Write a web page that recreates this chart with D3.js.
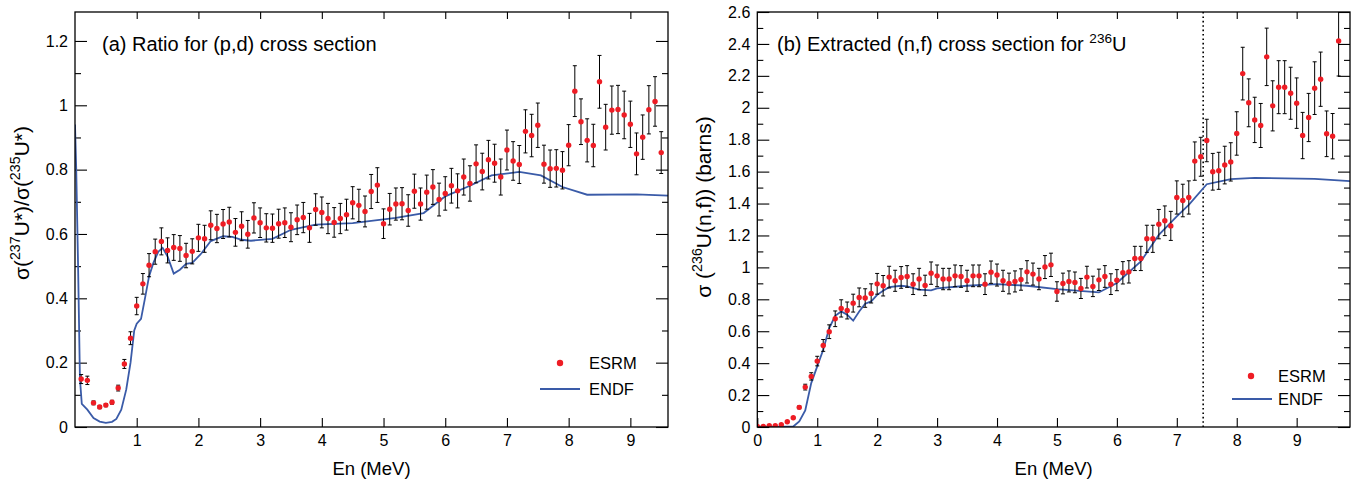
<!DOCTYPE html>
<html>
<head>
<meta charset="utf-8">
<script src="https://cdn.jsdelivr.net/npm/d3@7"></script>
<style>
  body { margin: 0; background: #fff; }
  text { font-family: "Liberation Sans", Arial, Helvetica, sans-serif; fill: #000; }
</style>
</head>
<body>
<svg id="chart" width="1365" height="479"></svg>
<script>
// (a) ratio for (p,d) cross section
var ratioEnergy = [0.1, 0.2, 0.3, 0.4, 0.5, 0.6, 0.7, 0.8, 0.9, 1.0, 1.1, 1.2, 1.3, 1.4, 1.5, 1.6, 1.7, 1.8, 1.9, 2.0,
  2.1, 2.2, 2.3, 2.4, 2.5, 2.6, 2.7, 2.8, 2.9, 3.0, 3.1, 3.2, 3.3, 3.4, 3.5, 3.6, 3.7, 3.8, 3.9, 4.0,
  4.1, 4.2, 4.3, 4.4, 4.5, 4.6, 4.7, 4.8, 4.9, 5.0, 5.1, 5.2, 5.3, 5.4, 5.5, 5.6, 5.7, 5.8, 5.9, 6.0,
  6.1, 6.2, 6.3, 6.4, 6.5, 6.6, 6.7, 6.8, 6.9, 7.0, 7.1, 7.2, 7.3, 7.4, 7.5, 7.6, 7.7, 7.8, 7.9, 8.0,
  8.1, 8.2, 8.3, 8.4, 8.5, 8.6, 8.7, 8.8, 8.9, 9.0, 9.1, 9.2, 9.3, 9.4, 9.5];
var ratioValue = [0.149, 0.145, 0.075, 0.062, 0.068, 0.077, 0.121, 0.196, 0.276, 0.376, 0.445, 0.503, 0.545, 0.577, 0.549, 0.558, 0.555, 0.533, 0.546, 0.588,
  0.585, 0.627, 0.617, 0.631, 0.637, 0.605, 0.624, 0.599, 0.650, 0.635, 0.619, 0.618, 0.632, 0.635, 0.621, 0.644, 0.651, 0.619, 0.676, 0.667,
  0.648, 0.636, 0.648, 0.660, 0.697, 0.689, 0.670, 0.732, 0.752, 0.632, 0.677, 0.693, 0.694, 0.673, 0.733, 0.693, 0.730, 0.746, 0.707, 0.726,
  0.750, 0.734, 0.777, 0.757, 0.818, 0.794, 0.831, 0.820, 0.777, 0.861, 0.827, 0.816, 0.919, 0.906, 0.938, 0.817, 0.803, 0.804, 0.798, 0.876,
  1.044, 0.949, 0.891, 0.875, 1.073, 0.932, 0.985, 0.987, 0.970, 0.941, 0.849, 0.901, 0.986, 1.012, 0.853];
var ratioError = [0.014, 0.013, 0.006, 0.005, 0.005, 0.006, 0.009, 0.014, 0.020, 0.027, 0.032, 0.036, 0.039, 0.042, 0.039, 0.040, 0.040, 0.038, 0.039, 0.042,
  0.042, 0.045, 0.044, 0.045, 0.046, 0.043, 0.045, 0.043, 0.047, 0.046, 0.044, 0.044, 0.045, 0.046, 0.045, 0.046, 0.047, 0.045, 0.049, 0.048,
  0.047, 0.046, 0.047, 0.048, 0.050, 0.050, 0.048, 0.053, 0.054, 0.046, 0.049, 0.050, 0.050, 0.049, 0.053, 0.050, 0.053, 0.054, 0.051, 0.052,
  0.054, 0.053, 0.056, 0.055, 0.059, 0.057, 0.060, 0.059, 0.056, 0.062, 0.060, 0.059, 0.067, 0.066, 0.069, 0.059, 0.058, 0.058, 0.058, 0.064,
  0.079, 0.071, 0.067, 0.066, 0.082, 0.071, 0.075, 0.075, 0.074, 0.072, 0.065, 0.069, 0.075, 0.077, 0.065];
var ratioEndfEnergy = [0, 0.02, 0.05, 0.08, 0.11, 0.2, 0.3, 0.4, 0.5, 0.6, 0.67, 0.75, 0.83, 0.9, 0.96, 1.0, 1.07, 1.13, 1.2, 1.27,
  1.35, 1.42, 1.5, 1.6, 1.7, 1.8, 1.9, 2.05, 2.2, 2.4, 2.55, 2.7, 2.85, 3.2, 3.5, 3.9, 4.5, 5.2, 5.65, 6.0,
  6.4, 6.75, 7.2, 7.55, 7.9, 8.3, 9.1, 9.61];
var ratioEndfValue = [0.94, 0.8, 0.5, 0.15, 0.072, 0.054, 0.028, 0.017, 0.013, 0.016, 0.025, 0.054, 0.116, 0.2, 0.3, 0.321, 0.336, 0.396, 0.468, 0.51,
  0.545, 0.557, 0.53, 0.477, 0.489, 0.507, 0.51, 0.54, 0.578, 0.593, 0.591, 0.582, 0.579, 0.585, 0.613, 0.629, 0.634, 0.65, 0.665, 0.717,
  0.75, 0.782, 0.793, 0.782, 0.746, 0.722, 0.723, 0.719];

// (b) extracted (n,f) cross section for 236U
var fissionEnergy = [0.0, 0.1, 0.2, 0.3, 0.4, 0.5, 0.6, 0.7, 0.8, 0.9, 1.0, 1.1, 1.2, 1.3, 1.4, 1.5, 1.6, 1.7, 1.8, 1.9,
  2.0, 2.1, 2.2, 2.3, 2.4, 2.5, 2.6, 2.7, 2.8, 2.9, 3.0, 3.1, 3.2, 3.3, 3.4, 3.5, 3.6, 3.7, 3.8, 3.9,
  4.0, 4.1, 4.2, 4.3, 4.4, 4.5, 4.6, 4.7, 4.8, 4.9, 5.0, 5.1, 5.2, 5.3, 5.4, 5.5, 5.6, 5.7, 5.8, 5.9,
  6.0, 6.1, 6.2, 6.3, 6.4, 6.5, 6.6, 6.7, 6.8, 6.9, 7.0, 7.1, 7.2, 7.3, 7.4, 7.5, 7.6, 7.7, 7.8, 7.9,
  8.0, 8.1, 8.2, 8.3, 8.4, 8.5, 8.6, 8.7, 8.8, 8.9, 9.0, 9.1, 9.2, 9.3, 9.4, 9.5, 9.6, 9.7];
var fissionValue = [0.004, 0.004, 0.008, 0.008, 0.014, 0.033, 0.058, 0.123, 0.250, 0.317, 0.413, 0.511, 0.597, 0.678, 0.743, 0.730, 0.776, 0.812, 0.808, 0.837,
  0.897, 0.885, 0.939, 0.916, 0.937, 0.943, 0.895, 0.927, 0.887, 0.964, 0.947, 0.927, 0.927, 0.947, 0.943, 0.916, 0.947, 0.947, 0.895, 0.970,
  0.952, 0.916, 0.899, 0.912, 0.924, 0.972, 0.958, 0.927, 1.002, 1.016, 0.849, 0.899, 0.912, 0.906, 0.868, 0.939, 0.881, 0.922, 0.943, 0.895,
  0.920, 0.966, 0.972, 1.056, 1.056, 1.179, 1.179, 1.271, 1.292, 1.260, 1.438, 1.419, 1.438, 1.666, 1.693, 1.795, 1.599, 1.605, 1.641, 1.661,
  1.839, 2.214, 2.031, 1.924, 1.889, 2.319, 2.012, 2.129, 2.129, 2.091, 2.029, 1.826, 1.939, 2.123, 2.179, 1.837, 1.822, 2.419];
var fissionError = [0, 0, 0, 0, 0.001, 0.002, 0.004, 0.009, 0.018, 0.023, 0.030, 0.037, 0.043, 0.049, 0.054, 0.053, 0.056, 0.059, 0.058, 0.060,
  0.065, 0.064, 0.068, 0.066, 0.068, 0.068, 0.065, 0.067, 0.064, 0.070, 0.068, 0.067, 0.067, 0.068, 0.068, 0.066, 0.068, 0.068, 0.065, 0.070,
  0.069, 0.066, 0.065, 0.066, 0.067, 0.070, 0.069, 0.067, 0.072, 0.073, 0.061, 0.065, 0.066, 0.065, 0.063, 0.068, 0.064, 0.067, 0.068, 0.065,
  0.066, 0.070, 0.070, 0.076, 0.076, 0.085, 0.085, 0.092, 0.093, 0.091, 0.104, 0.102, 0.104, 0.120, 0.122, 0.133, 0.115, 0.116, 0.118, 0.120,
  0.136, 0.165, 0.150, 0.142, 0.138, 0.180, 0.157, 0.166, 0.166, 0.163, 0.158, 0.145, 0.151, 0.165, 0.170, 0.143, 0.142, 0.220];
var fissionEndfEnergy = [0, 0.6, 0.7, 0.8, 0.9, 1.0, 1.1, 1.2, 1.3, 1.4, 1.5, 1.6, 1.7, 1.8, 1.9, 2.0, 2.1, 2.2, 2.4, 2.5,
  2.7, 2.9, 3.0, 3.5, 4.0, 4.5, 5.0, 5.7, 6.0, 6.4, 6.7, 7.0, 7.2, 7.5, 7.9, 8.3, 9.3, 9.89];
var fissionEndfValue = [0.002, 0.003, 0.035, 0.104, 0.275, 0.38, 0.484, 0.62, 0.697, 0.724, 0.703, 0.666, 0.724, 0.772, 0.787, 0.828, 0.853, 0.876, 0.885, 0.881,
  0.86, 0.856, 0.868, 0.885, 0.895, 0.885, 0.864, 0.843, 0.902, 1.037, 1.204, 1.319, 1.392, 1.521, 1.553, 1.561, 1.555, 1.540];
var separationEnergy = 7.44;

// ticks
var xTicksA = [1, 2, 3, 4, 5, 6, 7, 8, 9];
var xTicksB = [0, 1, 2, 3, 4, 5, 6, 7, 8, 9];
var yTicksA = [0, 0.2, 0.4, 0.6, 0.8, 1, 1.2];
var yMinorA = [0.1, 0.3, 0.5, 0.7, 0.9, 1.1];
var yTicksB = [0, 0.2, 0.4, 0.6, 0.8, 1, 1.2, 1.4, 1.6, 1.8, 2, 2.2, 2.4, 2.6];
var yMinorB = [0.1, 0.3, 0.5, 0.7, 0.9, 1.1, 1.3, 1.5, 1.7, 1.9, 2.1, 2.3, 2.5];

var svg = d3.select("#chart");
var red = "#ee1c24";
var blue = "#3a5ba8";
var fmt = d3.format("~g");

// text with superscripts: parts = [[text, isSup], ...]
function richText(el, parts, size) {
  var raised = false;
  parts.forEach(function (p) {
    var t = el.append("tspan").text(p[0]);
    if (p[1]) {
      t.attr("font-size", size * 0.68).attr("dy", -size * 0.42);
      raised = true;
    } else if (raised) {
      t.attr("dy", size * 0.42);
      raised = false;
    }
  });
}

function drawPanel(p) {
  var top = 12, bottom = 427;
  var x = d3.scaleLinear().domain([0, p.xMax]).range([p.left, p.right]);
  var y = d3.scaleLinear().domain([0, p.yMax]).range([bottom, top]);
  var g = svg.append("g");

  g.append("clipPath").attr("id", p.id + "-clip")
    .append("rect")
    .attr("x", p.left).attr("y", top)
    .attr("width", p.right - p.left).attr("height", bottom - top);

  var axisStyle = function (a) {
    a.select(".domain").remove();
    a.selectAll("line").attr("stroke", "#000").attr("stroke-width", 1.1);
    a.selectAll("text").attr("font-size", 16).attr("fill", "#000")
      .attr("font-family", "'Liberation Sans', Arial, sans-serif");
  };

  // axes, ticks pointing inward
  g.append("g").attr("transform", "translate(0," + bottom + ")")
    .call(d3.axisBottom(x).tickValues(p.xTicks).tickSize(-9).tickPadding(8).tickFormat(fmt))
    .call(axisStyle);
  g.append("g").attr("transform", "translate(0," + top + ")")
    .call(d3.axisTop(x).tickValues(p.xTicks.filter(function (d) { return d > 0; })).tickSize(-7).tickFormat(""))
    .call(axisStyle);
  g.append("g").attr("transform", "translate(" + p.left + ",0)")
    .call(d3.axisLeft(y).tickValues(p.yTicks).tickSize(-12).tickPadding(7).tickFormat(fmt))
    .call(axisStyle);
  g.append("g").attr("transform", "translate(" + p.left + ",0)")
    .call(d3.axisLeft(y).tickValues(p.yMinor).tickSize(-6).tickFormat(""))
    .call(axisStyle);
  g.append("g").attr("transform", "translate(" + p.right + ",0)")
    .call(d3.axisRight(y).tickValues(p.yTicks).tickSize(-12).tickFormat(""))
    .call(axisStyle);
  g.append("g").attr("transform", "translate(" + p.right + ",0)")
    .call(d3.axisRight(y).tickValues(p.yMinor).tickSize(-6).tickFormat(""))
    .call(axisStyle);

  var plot = g.append("g").attr("clip-path", "url(#" + p.id + "-clip)");

  if (p.vline) {
    plot.append("line")
      .attr("x1", x(p.vline)).attr("x2", x(p.vline))
      .attr("y1", top).attr("y2", bottom)
      .attr("stroke", "#000").attr("stroke-width", 1.6)
      .attr("stroke-dasharray", "1.6,2.8");
  }

  var line = d3.line()
    .x(function (d) { return x(d[0]); })
    .y(function (d) { return y(d[1]); });
  plot.append("path")
    .datum(d3.zip(p.endfE, p.endfV))
    .attr("d", line)
    .attr("fill", "none")
    .attr("stroke", blue)
    .attr("stroke-width", 1.8);

  var pts = d3.zip(p.energy, p.value, p.error);
  var bars = plot.append("g").attr("stroke", "#000").attr("stroke-width", 1);
  pts.forEach(function (d) {
    if (d[2] <= 0) return;
    var cx = x(d[0]), y0 = y(d[1] - d[2]), y1 = y(d[1] + d[2]);
    bars.append("line").attr("x1", cx).attr("x2", cx).attr("y1", y0).attr("y2", y1);
    bars.append("line").attr("x1", cx - 2).attr("x2", cx + 2).attr("y1", y0).attr("y2", y0);
    bars.append("line").attr("x1", cx - 2).attr("x2", cx + 2).attr("y1", y1).attr("y2", y1);
  });
  plot.append("g").selectAll("circle")
    .data(pts)
    .enter()
    .append("circle")
    .attr("cx", function (d) { return x(d[0]); })
    .attr("cy", function (d) { return y(d[1]); })
    .attr("r", 2.7)
    .attr("fill", red);

  // frame
  g.append("rect")
    .attr("x", p.left).attr("y", top)
    .attr("width", p.right - p.left).attr("height", bottom - top)
    .attr("fill", "none").attr("stroke", "#000").attr("stroke-width", 1.3);

  // title inside the frame
  var title = g.append("text").attr("x", p.titleX).attr("y", 51).attr("font-size", 20);
  richText(title, p.title, 20);

  // axis titles
  g.append("text")
    .attr("x", (p.left + p.right) / 2).attr("y", 475)
    .attr("text-anchor", "middle").attr("font-size", 18.5)
    .text("En (MeV)");
  var yl = g.append("text")
    .attr("transform", "translate(" + p.yLabelX + "," + p.yLabelY + ") rotate(-90)")
    .attr("text-anchor", "middle").attr("font-size", 21);
  richText(yl, p.yLabel, 21);

  // legend
  var L = p.legend;
  g.append("circle").attr("cx", L.markX).attr("cy", L.row1).attr("r", 3.2).attr("fill", red);
  g.append("line")
    .attr("x1", L.lineX1).attr("x2", L.lineX2).attr("y1", L.row2).attr("y2", L.row2)
    .attr("stroke", blue).attr("stroke-width", 1.8);
  g.append("text").attr("x", L.textX).attr("y", L.row1).attr("dy", "0.36em")
    .attr("font-size", 16.5).text("ESRM");
  g.append("text").attr("x", L.textX).attr("y", L.row2).attr("dy", "0.36em")
    .attr("font-size", 16.5).text("ENDF");
}

drawPanel({
  id: "a", left: 75, right: 668, xMax: 9.61, yMax: 1.29,
  xTicks: xTicksA, yTicks: yTicksA, yMinor: yMinorA,
  energy: ratioEnergy, value: ratioValue, error: ratioError,
  endfE: ratioEndfEnergy, endfV: ratioEndfValue,
  titleX: 102,
  title: [["(a) Ratio for (p,d) cross section", false]],
  yLabelX: 29, yLabelY: 203,
  yLabel: [["σ(", false], ["237", true], ["U*)/σ(", false], ["235", true], ["U*)", false]],
  legend: { markX: 560, lineX1: 540, lineX2: 580, textX: 589, row1: 363, row2: 389 }
});

drawPanel({
  id: "b", left: 757.3, right: 1350, xMax: 9.89, yMax: 2.6,
  xTicks: xTicksB, yTicks: yTicksB, yMinor: yMinorB,
  energy: fissionEnergy, value: fissionValue, error: fissionError,
  endfE: fissionEndfEnergy, endfV: fissionEndfValue,
  vline: separationEnergy,
  titleX: 777,
  title: [["(b) Extracted (n,f) cross section for ", false], ["236", true], ["U", false]],
  yLabelX: 711, yLabelY: 207,
  yLabel: [["σ (", false], ["236", true], ["U(n,f)) (barns)", false]],
  legend: { markX: 1251, lineX1: 1232, lineX2: 1272, textX: 1278, row1: 376, row2: 399 }
});
</script>
</body>
</html>
